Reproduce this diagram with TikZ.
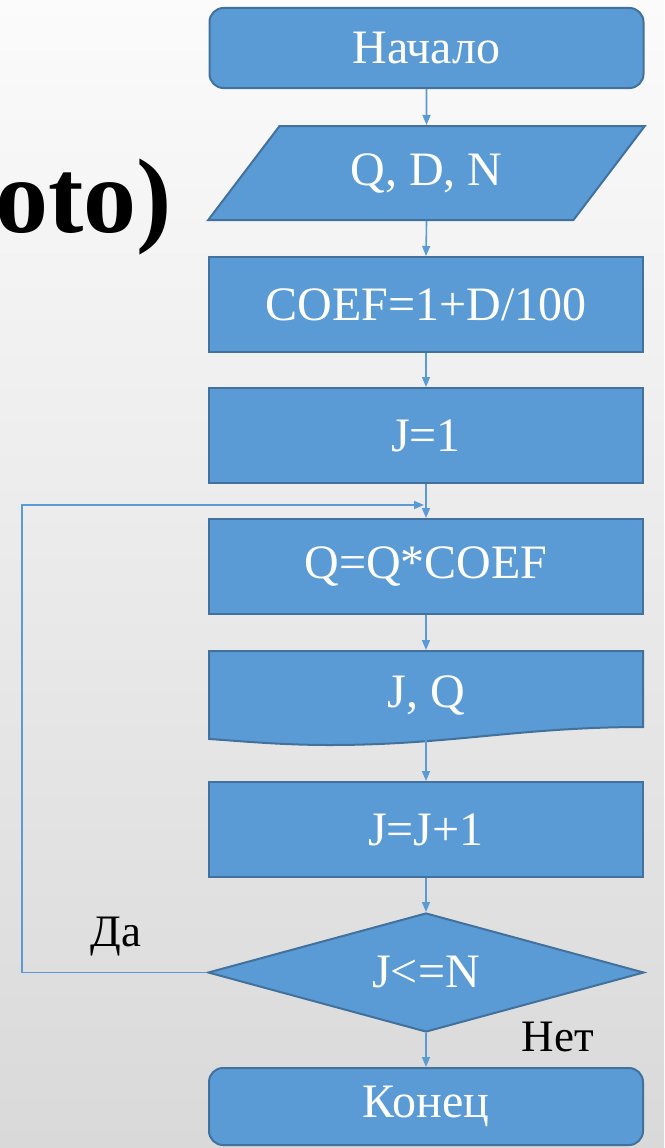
\documentclass[tikz,border=0pt]{standalone}
\usepackage{fontspec}
\setmainfont{Liberation Serif}
\usetikzlibrary{arrows.meta,shapes.geometric}
\definecolor{boxfill}{HTML}{5B9BD5}
\definecolor{boxline}{HTML}{41719C}
\definecolor{bgtop}{HTML}{FBFBFB}
\definecolor{bgmid}{HTML}{F1F1F1}
\definecolor{bgbot}{HTML}{D9D9D9}

\begin{document}
\begin{tikzpicture}[x=1pt,y=-1pt,
  blk/.style={draw=boxline, fill=boxfill, line width=2pt, text=white,
    font=\fontsize{48}{50}\selectfont, minimum width=434pt,
    minimum height=95pt, inner sep=0pt},
  term/.style={blk, rounded corners=14pt, minimum height=80pt},
  flow/.style={draw=boxfill, line width=1.6pt,
    -{Triangle[length=10pt,width=8pt]}},
  lbl/.style={font=\fontsize{45}{47}\selectfont, text=black, inner sep=0pt}
]
% page background
\shade[top color=bgtop, middle color=bgmid, bottom color=bgbot]
  (0,0) rectangle (664,1148);
\useasboundingbox (0,0) rectangle (664,1148);

% large heading fragment at the left
\node[font=\bfseries\fontsize{106}{106}\selectfont, anchor=base east,
  inner sep=0pt] (title) at (172,232) {oto)};

% flowchart blocks
\node[term] (start) at (426.5,48) {Начало};
\node[blk, trapezium, trapezium left angle=47, trapezium right angle=133,
  trapezium stretches=true, minimum width=437pt, minimum height=94pt]
  (inp) at (426.5,173) {Q, D, N};
\node[blk] (coef) at (426,304.5) {COEF=1+D/100};
\node[blk] (j1) at (426,435.5) {J=1};
\node[blk] (q) at (426,566.5) {Q=Q*COEF};

% output (document) block with a wavy lower edge
\filldraw[draw=boxline, fill=boxfill, line width=2pt]
  (209,651) -- (643,651) -- (643,727)
  .. controls (520,727) and (450,745) .. (330,745)
  .. controls (280,745) and (240,741) .. (209,739) -- cycle;
\node[blk, draw=none, fill=none, minimum height=88pt] (out) at (426,695) {J, Q};
\coordinate (outb) at (426,740);

\node[blk] (inc) at (426,829.5) {J=J+1};
\node[blk, diamond, aspect=3.66, minimum width=436pt, minimum height=119pt]
  (dec) at (426,972.5) {J<=N};
\node[term, minimum height=77pt] (end) at (426,1106.5) {Конец};

% branch labels
\node[lbl] (yes) at (116,937) {Да};
\node[lbl] (no) at (558,1037) {Нет};

% connectors
\coordinate (loopin) at (424,505);
\draw[flow] (start.south) -- (inp.north);
\draw[flow] (inp.south) -- (coef.north);
\draw[flow] (coef.south) -- (j1.north);
\draw[flow] (j1.south) -- (q.north);
\draw[flow] (q.south) -- (out.north);
\draw[flow] (outb) -- (inc.north);
\draw[flow] (inc.south) -- (dec.north);
\draw[flow] (dec.south) -- (end.north);
\draw[flow] (dec.west) -- ++(-185,0) |- (loopin);
\end{tikzpicture}
\end{document}
